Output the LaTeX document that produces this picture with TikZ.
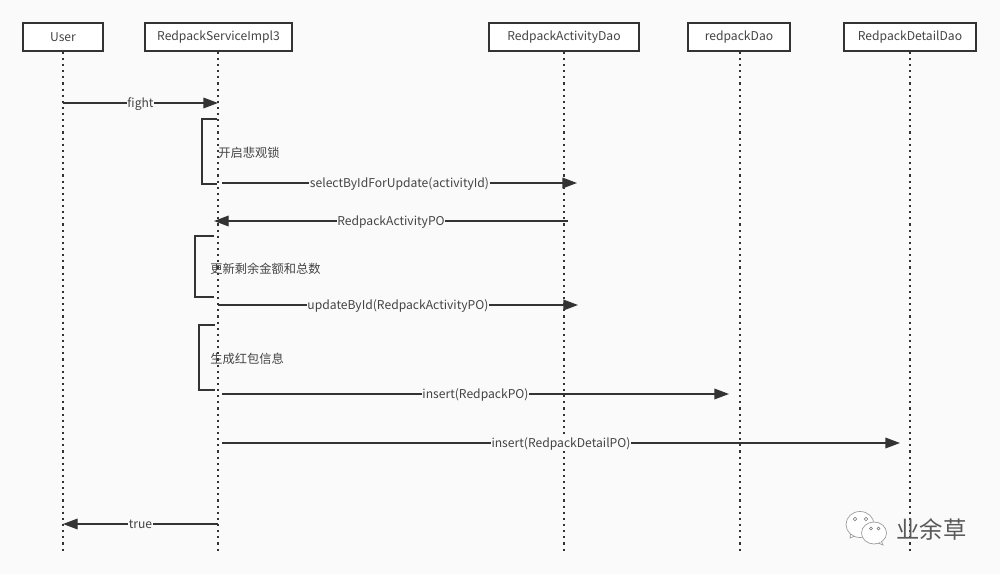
\documentclass[tikz,border=0pt]{standalone}
\usepackage{fontspec}
\setmainfont{Noto Sans CJK SC}
\usetikzlibrary{arrows.meta}
\definecolor{ink}{HTML}{333333}
\definecolor{paper}{HTML}{FAFAFA}
\definecolor{txt}{HTML}{444444}
\tikzset{
  actor/.style={draw=ink,line width=1.1pt,fill=white,minimum height=21pt,inner sep=0pt,text=txt,font=\fontsize{9.1}{11}\selectfont},
  life/.style={draw=ink,line width=1.1pt,dash pattern=on 1.6pt off 3pt},
  msg/.style={draw=ink,line width=1pt,-{Triangle[length=11pt,width=8pt,fill=ink]}},
  lbl/.style={fill=paper,inner sep=0.4pt,text=txt,yshift=-0.6pt,font=\fontsize{9.1}{11}\selectfont},
  note/.style={inner sep=0pt,anchor=west,text=txt,yshift=-0.4pt,font=\fontsize{9.2}{11}\selectfont},
  brk/.style={draw=ink,line width=1pt},
  logo/.style={draw=black!40,line width=0.5pt,fill=white},
  eye/.style={draw=black!55,line width=0.4pt,fill=white},
}
\begin{document}
\begin{tikzpicture}[x=0.75pt,y=-0.75pt]
\fill[paper] (0,0) rectangle (1000,574);
\useasboundingbox (0,0) rectangle (1000,574);
% lifeline ends
\coordinate (eU) at (63,551);
\coordinate (eS) at (218,551);
\coordinate (eA) at (564,551);
\coordinate (eR) at (740,551);
\coordinate (eD) at (910,551);
% actors
\node[actor,minimum width=60pt] (U) at (63,37) {User};
\node[actor,minimum width=110.2pt] (S) at (218.5,37) {RedpackServiceImpl3};
\node[actor,minimum width=112.5pt] (A) at (564,37) {RedpackActivityDao};
\node[actor,minimum width=76.5pt] (R) at (739,37) {redpackDao};
\node[actor,minimum width=99pt] (D) at (910,37) {RedpackDetailDao};
\draw[life] (U.south) -- (eU);
\draw[life] (S.south -| eS) -- (eS);
\draw[life] (A.south) -- (eA);
\draw[life] (R.south -| eR) -- (eR);
\draw[life] (D.south) -- (eD);
% messages
\coordinate (m1a) at (63,103); \coordinate (m1b) at (218,103);
\draw[msg] (m1a) -- node[lbl,pos=.5]{fight} (m1b);
\coordinate (m2a) at (222,183); \coordinate (m2b) at (577,183);
\draw[msg] (m2a) -- node[lbl,pos=.5]{selectByIdForUpdate(activityId)} (m2b);
\coordinate (m3a) at (568,221); \coordinate (m3b) at (214,221);
\draw[msg] (m3a) -- node[lbl,pos=.5]{RedpackActivityPO} (m3b);
\coordinate (m4a) at (218,305); \coordinate (m4b) at (578,305);
\draw[msg] (m4a) -- node[lbl,pos=.5]{updateById(RedpackActivityPO)} (m4b);
\coordinate (m5a) at (222,394); \coordinate (m5b) at (729,394);
\draw[msg] (m5a) -- node[lbl,pos=.5]{insert(RedpackPO)} (m5b);
\coordinate (m6a) at (222,443); \coordinate (m6b) at (900,443);
\draw[msg] (m6a) -- node[lbl,pos=.5]{insert(RedpackDetailPO)} (m6b);
\coordinate (m7a) at (218,524); \coordinate (m7b) at (63,524);
\draw[msg] (m7a) -- node[lbl,pos=.5]{true} (m7b);
% brackets
\draw[brk] (217,119) -- (202,119) -- (202,184) -- (217,184);
\draw[brk] (214,236) -- (195,236) -- (195,297) -- (214,297);
\draw[brk] (215,325) -- (199,325) -- (199,390) -- (215,390);
\node[note] (n1) at (218,152.5) {开启悲观锁};
\node[note] (n2) at (210,268) {更新剩余金额和总数};
\node[note] (n3) at (210,358) {生成红包信息};
% watermark
\draw[logo] (851,531) -- (850,538) -- (856,535.5) -- cycle;
\draw[logo] (860,524.5) ellipse[x radius=14,y radius=13];
\draw[logo] (880,538) -- (883,545) -- (876,542) -- cycle;
\draw[logo] (874,533) ellipse[x radius=12.5,y radius=11];
\fill[white] (851.6,532.5) -- (853,535) -- (856,534) -- cycle;
\fill[white] (879.5,538.5) -- (881.2,542.8) -- (876,541) -- cycle;
\filldraw[eye] (855,519) circle[radius=1.7] (866,519) circle[radius=1.7];
\filldraw[eye] (871,528.5) circle[radius=1.5] (878.5,528.5) circle[radius=1.5];
\node[inner sep=0pt,text=black!65,font=\fontsize{17.5}{20}\selectfont] (wm) at (931.5,530) {业余草};
\end{tikzpicture}
\end{document}
